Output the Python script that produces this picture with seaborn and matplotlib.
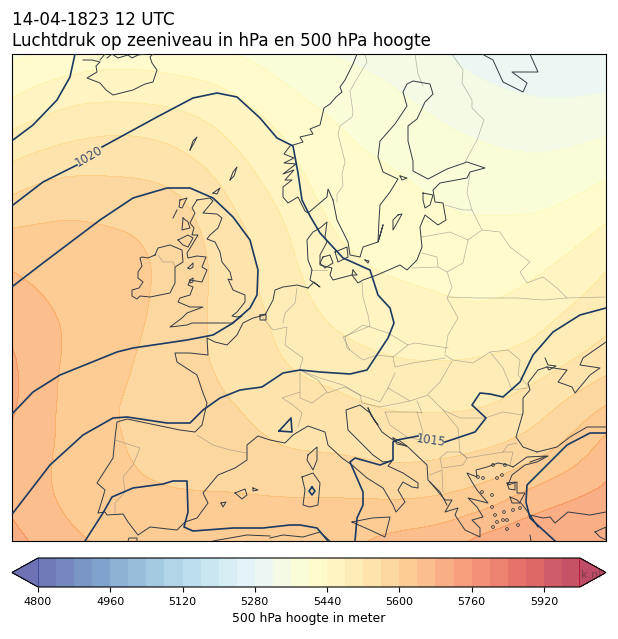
#!/usr/bin/python3

import numpy as np
import pandas as pd
import matplotlib
matplotlib.use('Agg')
import matplotlib.pyplot as plt
import matplotlib.tri as mtri
import seaborn as sns

# grid of the height field (map position on the picture)
grid_x = [12, 66, 120, 174, 228, 282, 336, 390, 444, 498, 552, 606]
grid_y = [54, 98, 142, 186, 230, 274, 318, 362, 406, 450, 494, 541]

# 500 hPa height in meter, one row per grid_y
h054 = [5392, 5410, 5422, 5415, 5402, 5380, 5358, 5344, 5322, 5299, 5290, 5286]
h098 = [5440, 5468, 5475, 5468, 5447, 5413, 5386, 5367, 5345, 5328, 5320, 5325]
h142 = [5496, 5519, 5527, 5515, 5482, 5443, 5408, 5389, 5370, 5357, 5353, 5365]
h186 = [5549, 5570, 5568, 5556, 5513, 5464, 5424, 5408, 5391, 5382, 5385, 5406]
h230 = [5602, 5606, 5600, 5579, 5536, 5485, 5439, 5424, 5411, 5408, 5416, 5446]
h274 = [5642, 5625, 5615, 5585, 5545, 5497, 5456, 5439, 5430, 5428, 5446, 5482]
h318 = [5665, 5636, 5613, 5583, 5546, 5509, 5474, 5461, 5453, 5453, 5477, 5508]
h362 = [5685, 5636, 5607, 5578, 5551, 5522, 5500, 5484, 5481, 5488, 5510, 5544]
h406 = [5685, 5632, 5600, 5580, 5563, 5543, 5530, 5517, 5515, 5524, 5555, 5601]
h450 = [5670, 5632, 5603, 5585, 5578, 5563, 5557, 5549, 5552, 5566, 5600, 5657]
h494 = [5670, 5633, 5612, 5603, 5601, 5598, 5597, 5594, 5600, 5625, 5662, 5688]
h541 = [5695, 5652, 5630, 5620, 5617, 5622, 5625, 5650, 5665, 5700, 5715, 5720]
height_rows = [h054, h098, h142, h186, h230, h274, h318, h362, h406, h450, h494, h541]

height_levels = list(range(4800, 6001, 40))
height_ticks = [4800, 4960, 5120, 5280, 5440, 5600, 5760, 5920]

# isobars
iso_a = [(13,140),(33,125),(57,100),(70,77),(75,54)]
iso_1020_left = [(13,205),(43,182),(77,165)]
iso_1020_right = [(102,147),(157,117),(193,98),(217,93),(237,97),(260,118),(277,138),(293,146),
                  (298,173),(302,200),(310,216),(320,233),(343,258),(370,270),(378,295),(390,308),
                  (394,323),(388,338),(367,370),(350,374),(320,372),(300,370),(283,373),(262,387),
                  (240,390),(220,398),(203,410),(190,423),(167,423),(127,417),(113,418),(83,435),
                  (50,465),(13,513)]
iso_c = [(13,286),(43,263),(100,220),(133,198),(167,188),(190,188),(213,198),(233,217),(250,240),
         (258,270),(257,295),(250,308),(233,323),(213,335),(187,340),(133,348),(117,352),(60,375),
         (33,392),(13,413)]
iso_d = [(85,541),(103,513),(112,497),(133,488),(163,484),(173,481),(187,481),(188,512),(184,527),
         (193,531),(233,528),(263,528),(290,525),(300,525),(317,528),(328,541)]
iso_1015_right = [(606,308),(580,315),(553,332),(533,355),(520,382),(503,397),(490,394),(480,393),
                  (472,405),(486,418),(475,432),(445,442)]
iso_1015_left = [(418,436),(397,440),(393,442),(393,460),(380,465),(355,458),(350,462),(363,492),
                 (363,505),(357,518),(355,541)]
iso_f = [(606,433),(590,433),(567,445),(527,485),(526,502),(530,518),(555,541)]
iso_triangle = [(279,431),(291,418),(292,432),(279,431)]
iso_sardinia = [(312,487),(315,491),(312,495),(309,491),(312,487)]
isobars = [iso_a, iso_1020_left, iso_1020_right, iso_c, iso_d, iso_1015_right, iso_1015_left,
           iso_f, iso_triangle, iso_sardinia]

# coasts
iceland = [(83,60),(92,60),(100,62),(96,66),(97,72),(87,78),(100,83),(106,90),(113,95),(133,90),(145,84),
           (153,82),(157,70),(152,63),(150,57),(153,54)]
iceland_n = [(100,60),(105,54)]
iceland_n2 = [(107,58),(112,54),(118,58),(128,55),(132,58),(138,55),(146,54)]
britain = [(197,200),(210,198),(213,201),(203,213),(217,214),(222,218),(218,228),(210,235),(207,239),
           (215,242),(220,252),(222,262),(230,272),(232,280),(228,279),(233,290),(245,295),(245,302),(237,312),
           (232,316),(237,317),(242,316),(232,323),(213,323),(192,323),(187,325),(170,327),(182,318),
           (187,313),(203,307),(190,307),(178,302),(180,298),(190,295),(193,287),(188,285),(190,280),
           (202,282),(207,270),(202,267),(206,257),(197,256),(188,258),(187,253),(192,245),(198,235),
           (192,235),(194,228),(190,223),(195,213),(192,208),(197,200)]
ireland = [(155,255),(158,248),(170,245),(182,250),(183,262),(175,267),(175,283),(170,293),(150,297),
           (140,296),(137,299),(132,296),(132,290),(139,288),(143,282),(138,278),(138,272),(142,266),(140,258),(142,257),(148,258),(155,255)]
hebrides_a = [(180,200),(187,198),(182,208),(179,207),(180,200)]
hebrides_b = [(173,218),(177,210)]
hebrides_c = [(183,218),(188,222),(190,228),(182,230),(183,218)]
hebrides_d = [(178,240),(188,235),(193,238),(188,247),(183,245),(178,240)]
man = [(188,268),(193,263),(193,267),(190,269),(188,268)]
anglesey = [(190,280),(193,278),(193,282),(190,283),(190,280)]
faroes = [(190,150),(193,141),(197,137),(194,143),(190,150)]
shetland = [(230,180),(233,172),(237,167),(234,176),(230,180)]
orkney = [(213,193),(220,188),(217,194),(213,193)]
norway = [(357,54),(353,64),(345,80),(340,87),(342,92),(336,97),(330,104),(324,108),(320,125),(310,129),(313,134),(300,137),
          (303,142),(290,146),(284,154),(294,158),(284,163),(296,164),(283,174),(294,170),(285,180),(292,180),(283,187),
          (283,197),(288,203),(298,197),(305,211),(308,213),(327,197),(328,189),(333,200)]
sweden_finland = [(333,200),(337,220),(348,242),(350,255),(360,257),(363,247),(375,243),(378,242),(379,220),
                  (380,205),(390,192),(398,179),(383,172),(378,157),(380,141),(395,124),(407,106),(403,92),
                  (407,84),(413,81),(430,84),(433,94),(425,102),(417,119),(408,126),(408,141),(413,161),
                  (413,171),(428,179),(447,169),(467,162),(485,168),(470,172),(467,178),(440,183),(433,190),
                  (435,202),(443,203),(446,220),(438,225),(425,215),(420,227),(422,247),(417,260),(407,270),
                  (400,265),(377,275),(363,280),(358,283),(352,275),(333,280),(330,275),(332,268),(320,265),
                  (320,255),(327,242),(325,237),(327,222),(320,228),(313,232),(307,240),(308,260),(312,270),
                  (310,280),(320,287),(314,282),(308,288)]
north_sea = [(308,288),(297,285),(283,287),(275,290),(273,300),(265,315),(253,318),(243,323),(237,335),(227,345),
             (215,342),(207,338),(208,355),(190,353),(175,353),(177,362),(197,375),(203,393),(207,403),(202,425),
             (195,432),(180,430),(127,419),(117,422),(115,438),(113,458),(97,483),(105,490),(103,497),(98,513),(105,512),
             (107,515),(123,514),(128,522),(138,535),(150,527),(177,530),(185,522),(197,518),(208,503),(203,493),
             (218,475),(235,468),(247,460),(247,445),(258,436),(270,440),(285,443),(293,435),(308,426),(325,432),
             (328,445),(342,458),(352,465),(367,478),(383,488),(393,505),(396,512),(405,502),(398,490),(403,482),
             (412,487),(418,488),(418,483),(403,473),(388,466),(392,461),(383,462),(373,455),(365,447),(348,430),
             (346,410),(360,405),(370,413),(382,432),(393,440),(408,447),(427,465),(428,480),(440,492),(447,505)]
greece = [(430,482),(445,500),(452,500),(445,512),(458,508),(455,515),(465,530),(480,537),(480,528),(472,520),
          (483,517),(477,507),(468,498),(488,503),(477,490),(472,482),(467,473),(477,477),(476,470),(487,467),(498,463),
          (508,465),(513,467)]
black_sea = [(537,452),(523,447),(516,437),(523,413),(523,398),(530,390),(528,383),(538,370),(547,367),(567,370),
             (558,382),(572,387),(575,393),(590,375),(600,368),(580,365),(583,358),(606,342)]
turkey_n = [(537,452),(557,447),(570,437),(587,427),(606,427)]
turkey_thrace = [(513,467),(527,457),(547,456),(530,462)]
turkey_w = [(548,456),(537,462),(525,465),(512,475),(508,485),(517,482),(517,493),(525,493),(520,502),(525,508),
            (530,515),(538,527),(530,515),(543,518),(550,517),(555,523),(568,512),(590,515),(606,512)]
azov = [(545,358),(548,365),(556,366),(549,370),(547,367)]
rhodes = [(595,532),(606,527),(606,540),(600,537),(595,532)]
crete = [(530,535),(531,541)]
sardinia = [(302,477),(313,473),(320,483),(318,505),(310,507),(303,505),(305,490),(302,477)]
corsica = [(308,455),(317,447),(317,460),(313,470),(307,460),(308,455)]
sicily = [(352,522),(372,518),(390,517),(385,537),(370,530),(352,522)]
africa_a = [(270,538),(283,535),(303,537),(320,532),(330,541)]
africa_b = [(213,541),(247,535),(270,536)]
africa_c = [(128,541),(129,538),(137,538),(137,541)]
mallorca = [(235,493),(245,489),(247,495),(242,499),(235,493)]
menorca = [(253,488),(258,490),(253,491),(253,488)]
ibiza = [(221,503),(226,502),(223,507),(221,503)]
gotland = [(398,215),(402,214),(397,223),(393,230),(393,220),(398,215)]
oland = [(383,225),(378,242),(380,236),(383,225)]
zealand = [(335,252),(347,247),(348,257),(338,262),(335,252)]
funen = [(323,257),(330,255),(333,263),(325,268),(320,263),(323,257)]
rugen = [(353,270),(357,275),(352,275),(353,270)]
bornholm = [(365,260),(369,261),(368,263),(365,260)]
saaremaa = [(423,193),(433,195),(430,205),(425,208),(423,200),(423,193)]
aland = [(400,176),(407,178),(402,180),(400,176)]
kola = [(482,54),(493,60),(503,82),(523,92),(527,83),(512,72),(538,72),(530,54)]
dalmatia = [(368,408),(374,420),(378,425),(371,415),(368,408)]
adria_blob = [(393,438),(400,441),(407,446),(397,444),(393,438)]
rhine_blob = [(260,315),(266,314),(266,320),(260,320),(260,315)]
lesbos = [(507,483),(515,482),(515,490),(509,489),(507,483)]
chios = [(510,497),(517,500),(520,503),(512,503),(510,497)]
coasts = [iceland, iceland_n, iceland_n2, britain, ireland, hebrides_a, hebrides_b, hebrides_c, hebrides_d,
          man, anglesey, faroes, shetland, orkney, norway, sweden_finland, north_sea, greece, black_sea,
          turkey_n, turkey_thrace, turkey_w, azov, rhodes, crete, sardinia, corsica, sicily, africa_a, africa_b,
          africa_c, mallorca, menorca, ibiza, gotland, oland, zealand, funen, rugen, bornholm, saaremaa, aland,
          kola, dalmatia, adria_blob, rhine_blob, lesbos, chios]

aegean_x = [492, 482, 497, 502, 505, 493, 478, 483, 492, 495, 504, 513, 520, 503, 507, 497, 493, 507, 518]
aegean_y = [495, 492, 478, 475, 465, 465, 477, 478, 507, 515, 512, 510, 508, 520, 520, 522, 527, 529, 525]

# borders
b_nor_swe = [(365,54),(367,62),(355,82),(350,91),(353,112),(352,117),(340,126),(338,134),(345,162),(342,174),(343,186),(337,194),(337,202)]
b_swe_fin = [(415,54),(418,74),(423,86)]
b_fin_rus = [(452,54),(463,70),(462,83),(472,100),(472,108),(484,120),(477,140),(465,162)]
b_est_rus = [(470,173),(467,193),(472,210),(482,230),(500,232),(510,247),(530,262),(520,272),(527,283),(543,277),(557,288),(567,298),(605,297)]
b_est_lat = [(445,205),(463,210),(472,210)]
b_lat_lit = [(422,237),(450,232),(468,240),(482,230)]
b_lit_bel = [(468,240),(463,263),(447,272),(438,267),(437,257),(422,253)]
b_kal = [(412,268),(438,267)]
b_pol_bel = [(447,272),(452,287),(447,298),(458,318),(448,335),(445,353)]
b_bel_ukr = [(448,297),(477,298),(517,298),(543,300),(567,298)]
b_rom_n = [(445,355),(453,360),(473,363),(490,352),(508,350),(520,360),(518,375),(530,388)]
b_mol = [(490,352),(503,368),(512,390),(527,388)]
b_pol_s = [(345,337),(363,325),(370,327),(388,333),(408,345),(415,343),(448,348)]
b_cze_s = [(345,337),(347,348),(363,360),(377,355),(393,357),(395,367),(413,363),(445,358)]
b_svk = [(408,345),(393,357)]
b_aut = [(300,370),(320,378),(343,385),(360,395),(380,402),(388,388),(395,373)]
b_hun_s = [(388,388),(410,401),(428,395),(443,410)]
b_rom_w = [(428,394),(440,382),(452,361)]
b_rom_s = [(443,410),(460,418),(485,418),(503,412),(523,415)]
b_slo = [(360,395),(362,403),(380,407),(410,401)]
b_bos = [(385,412),(417,412),(423,432),(420,440),(407,437),(390,425),(385,412)]
b_ser = [(417,401),(422,413),(417,412)]
b_ser_e = [(443,410),(458,428),(460,452)]
b_bul = [(460,452),(467,458),(503,452),(513,452),(510,465)]
b_mac = [(447,452),(440,458),(442,468),(463,465),(467,458),(460,452),(447,452)]
b_gre = [(430,475),(442,470),(443,492)]
b_bul_e = [(503,452),(508,445),(517,443)]
b_fr_ger = [(263,318),(273,330),(287,327),(285,345),(303,358),(300,368)]
b_fr_sp = [(197,435),(213,445),(230,450),(247,453)]
b_por = [(115,440),(140,448),(133,465),(123,477),(125,492),(115,503),(115,513)]
b_ger_nl = [(297,288),(295,303),(285,313),(283,323)]
b_ger_pol = [(362,282),(363,297),(368,315),(370,326),(343,337),(350,350)]
b_swi = [(300,368),(300,398),(312,403),(327,392),(318,380),(300,370)]
b_fr_it = [(300,392),(282,398),(293,405),(302,413),(298,427)]
b_it = [(327,393),(345,387),(360,395)]
b_dk = [(310,270),(327,270)]
b_ni = [(158,255),(163,262),(173,262),(175,266)]
borders = [b_nor_swe, b_swe_fin, b_fin_rus, b_est_rus, b_est_lat, b_lat_lit, b_lit_bel, b_kal, b_pol_bel, b_bel_ukr,
           b_rom_n, b_mol, b_pol_s, b_cze_s, b_svk, b_aut, b_hun_s, b_rom_w, b_rom_s, b_slo, b_bos, b_ser, b_ser_e,
           b_bul, b_mac, b_gre, b_bul_e, b_fr_ger, b_fr_sp, b_por, b_ger_nl, b_ger_pol, b_swi, b_fr_it, b_it, b_dk, b_ni]


def draw(ax, pts, color, lw, alpha=1.0, z=3):
    df = pd.DataFrame(pts, columns=['x', 'y'])
    sns.lineplot(data=df, x='x', y='y', sort=False, estimator=None, color=color,
                 linewidth=lw, alpha=alpha, zorder=z, legend=False, ax=ax)


fig = plt.figure(figsize=(6.18, 6.39), dpi=100)
ax = fig.add_axes([12/618, 1-541/639, 594/618, 487/639])
cax = fig.add_axes([12/618, 1-587/639, 594/618, 29/639])

cmap = sns.color_palette('RdYlBu_r', as_cmap=True)

# smooth the read-off grid with matplotlib's own triangulation refiner
gx, gy = np.meshgrid(grid_x, grid_y)
tri = mtri.Triangulation(gx.ravel(), gy.ravel())
tri_fine, z_fine = mtri.UniformTriRefiner(tri).refine_field(np.array(height_rows, dtype=float).ravel(), subdiv=3)
cf = ax.tricontourf(tri_fine, z_fine, levels=height_levels, cmap=cmap, extend='both', alpha=0.7)

for line in borders:
    draw(ax, line, '#777777', 0.5, alpha=0.55, z=2)
for line in coasts:
    draw(ax, line, '#333b44', 0.7, z=3)
sns.scatterplot(x=aegean_x, y=aegean_y, s=4, facecolor='none', edgecolor='#333b44', linewidth=0.6,
                zorder=3, legend=False, ax=ax)
for line in isobars:
    draw(ax, line, '#1b3a63', 1.2, z=4)

ax.text(89, 157, '1020', color='#3a5070', fontsize=8.5, rotation=30, ha='center', va='center', zorder=5)
ax.text(431, 441, '1015', color='#3a5070', fontsize=8.5, rotation=-8, ha='center', va='center', zorder=5)

ax.set_xlim(12, 606)
ax.set_ylim(541, 54)
ax.set_xlabel('')
ax.set_ylabel('')
ax.set_xticks([])
ax.set_yticks([])
ax.set_title('14-04-1823 12 UTC\nLuchtdruk op zeeniveau in hPa en 500 hPa hoogte', loc='left', fontsize=12.1, pad=6)

cb = fig.colorbar(cf, cax=cax, orientation='horizontal', extend='both', extendfrac=0.048, drawedges=False)
cb.set_ticks(height_ticks)
cb.ax.tick_params(labelsize=8)
cb.set_label('500 hPa hoogte in meter', fontsize=8.9)

fig.text(581/618, 1-575/639, 'k.nl', fontsize=8, color='#222222', alpha=0.4, va='center', ha='left', zorder=10)

fig.savefig('out.png', dpi=100)
